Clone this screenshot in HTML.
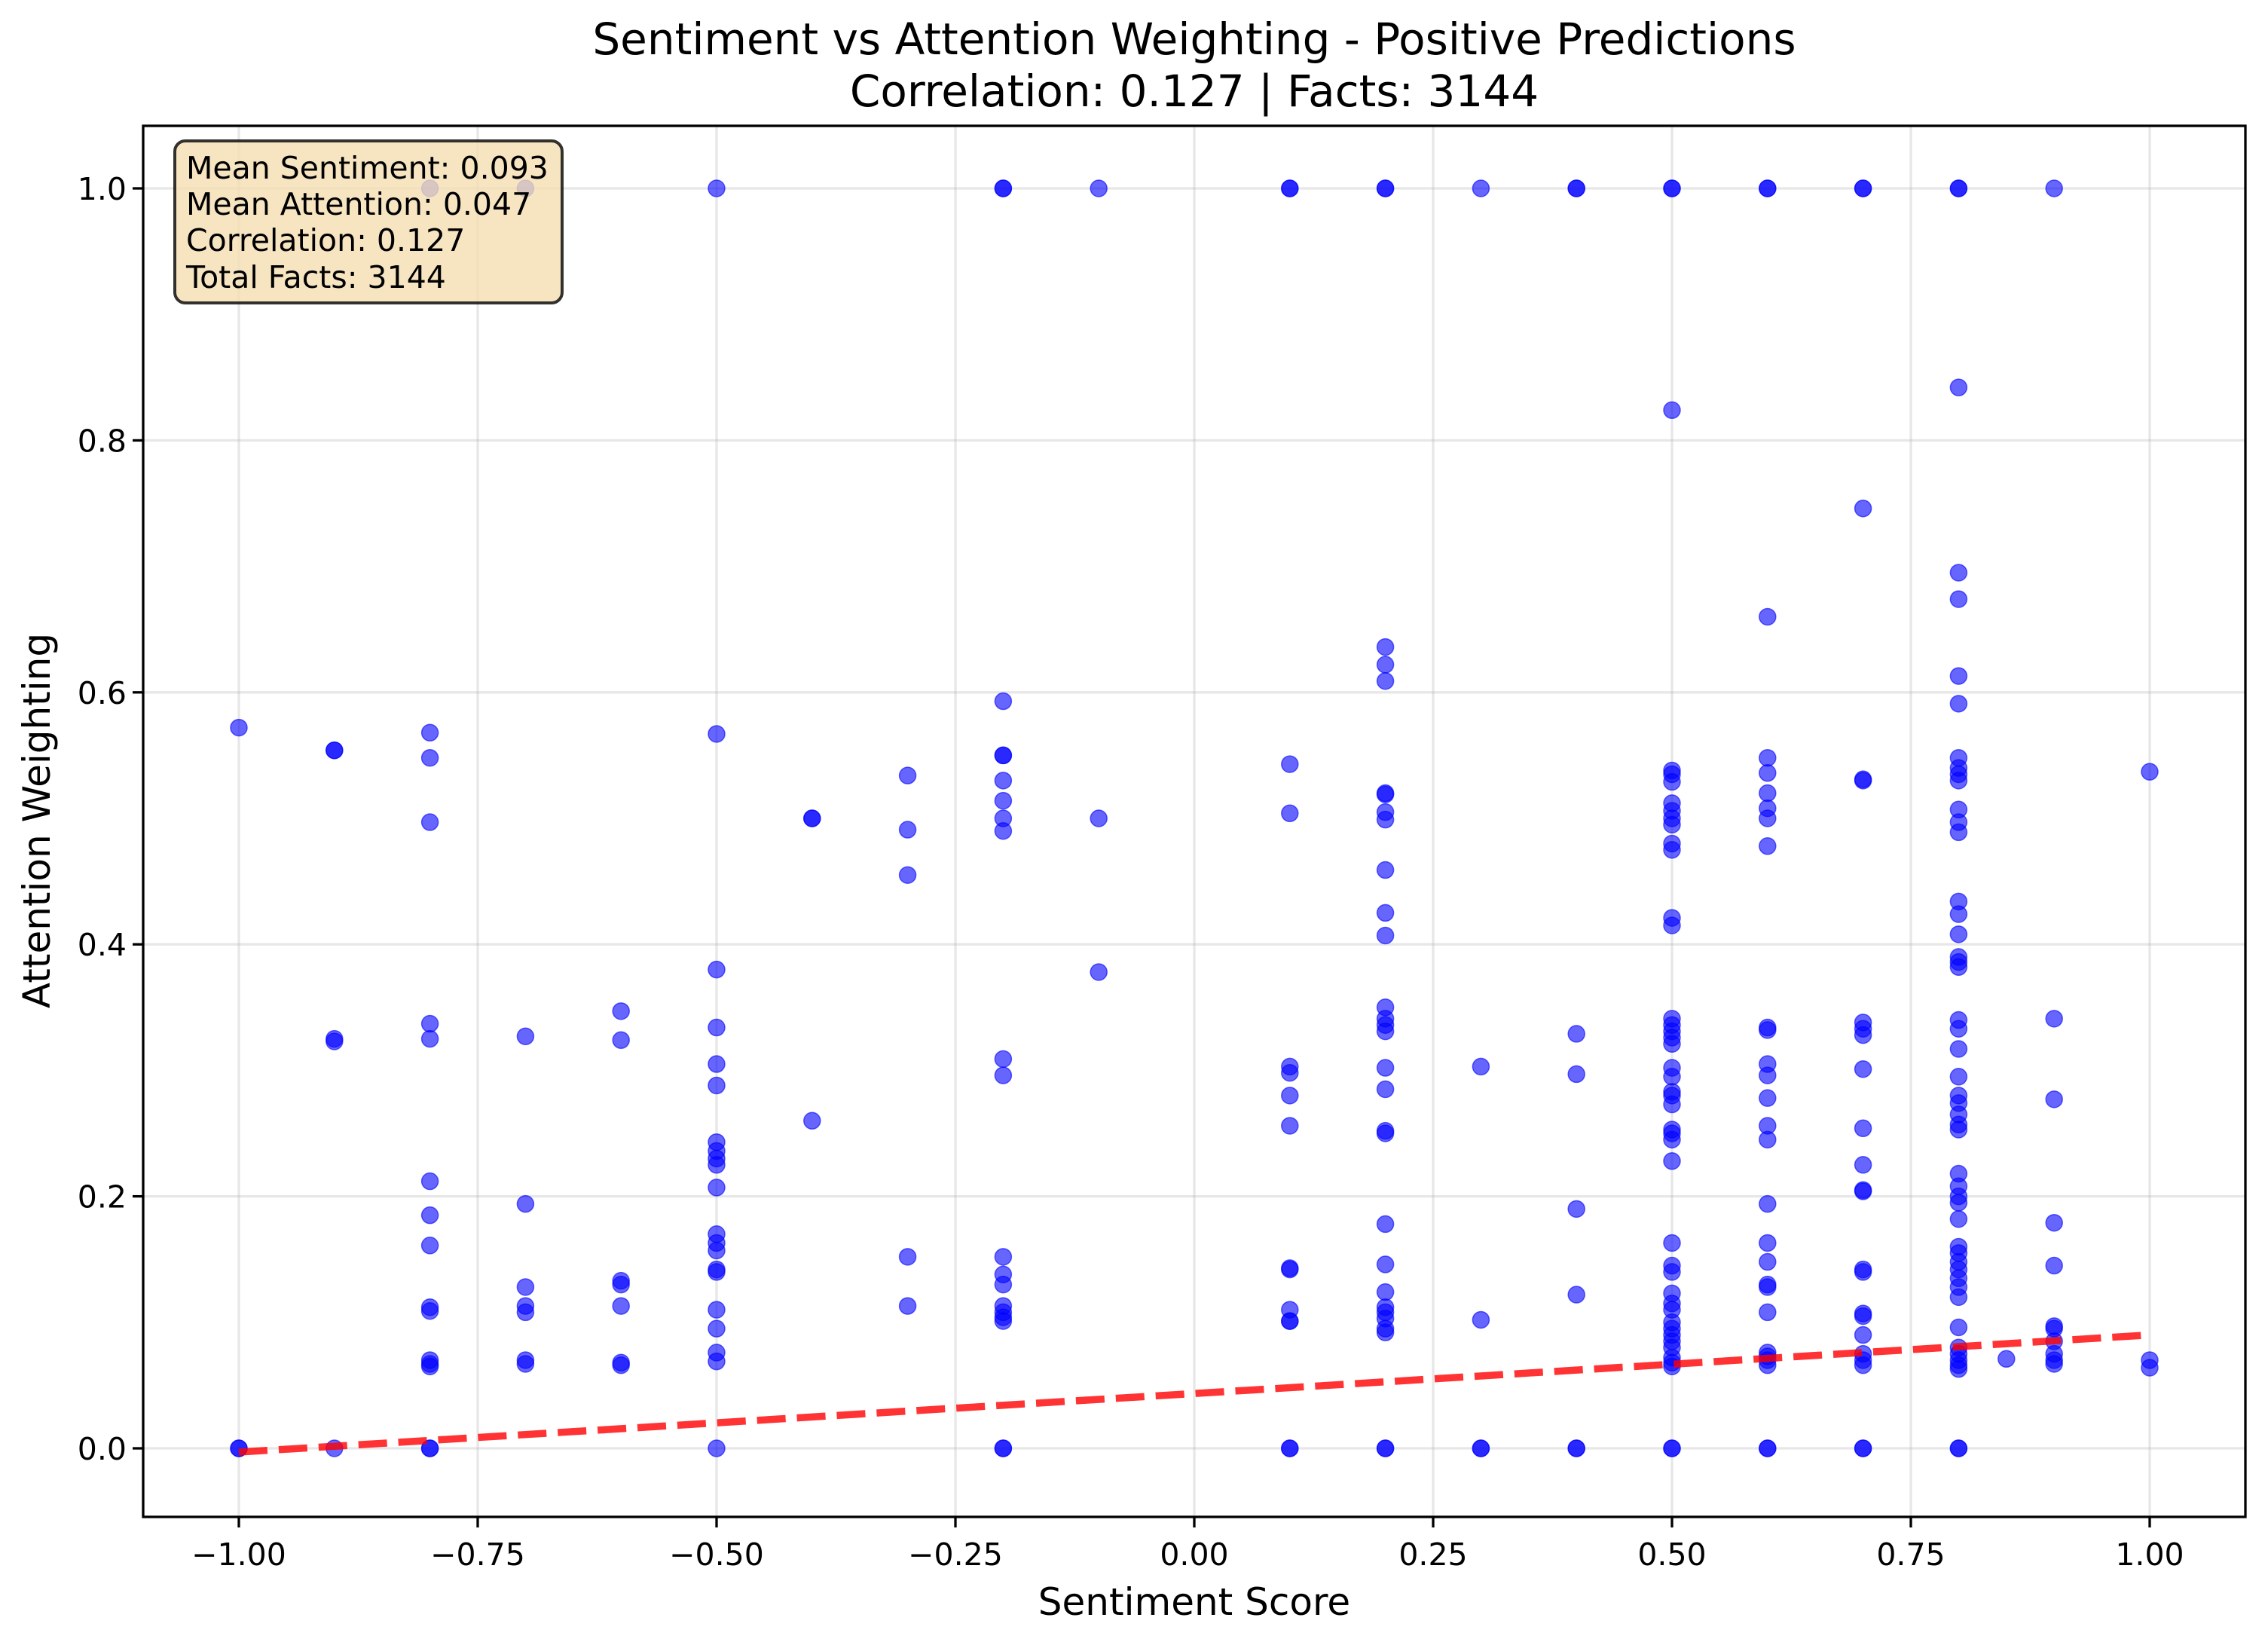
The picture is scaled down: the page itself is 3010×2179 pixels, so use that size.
<!DOCTYPE html>
<html><head><meta charset="utf-8"><style>
html,body{margin:0;padding:0;background:#fff}
svg{display:block;font-family:"DejaVu Sans","Liberation Sans",sans-serif}
</style></head><body>
<svg id="chart" width="3010" height="2179" viewBox="0 0 3010 2179" xmlns="http://www.w3.org/2000/svg">
<rect width="3010" height="2179" fill="#fff"/>
<g id="grid"></g>
<g id="points"></g>
<g id="trend"></g>
<rect x="190" y="167" width="2790" height="1846" fill="none" stroke="#000" stroke-width="3.3"/>
<g id="ticks"></g>
<text x="1585" y="72" font-size="58" text-anchor="middle">Sentiment vs Attention Weighting - Positive Predictions</text>
<text x="1585" y="141" font-size="58" text-anchor="middle">Correlation: 0.127 | Facts: 3144</text>
<text x="1585" y="2143" font-size="50" text-anchor="middle">Sentiment Score</text>
<text x="66" y="1089" font-size="50" text-anchor="middle" transform="rotate(-90 66 1089)">Attention Weighting</text>
<g>
<rect x="232" y="187" width="514" height="215" rx="14" fill="#f5deb3" fill-opacity="0.8" stroke="#000" stroke-opacity="0.8" stroke-width="4"/>
<text x="247" y="237" font-size="41">Mean Sentiment: 0.093</text>
<text x="247" y="285" font-size="41">Mean Attention: 0.047</text>
<text x="247" y="333" font-size="41">Correlation: 0.127</text>
<text x="247" y="382" font-size="41">Total Facts: 3144</text>
</g>
</svg>
<script>
const xTicks=[-1,-0.75,-0.5,-0.25,0,0.25,0.5,0.75,1];
const xTickLabels=["\u22121.00","\u22120.75","\u22120.50","\u22120.25","0.00","0.25","0.50","0.75","1.00"];
const yTicks=[0,0.2,0.4,0.6,0.8,1.0];
const yTickLabels=["0.0","0.2","0.4","0.6","0.8","1.0"];
const sentimentGroups=[-1,-0.9,-0.8,-0.7,-0.6,-0.5,-0.4,-0.3,-0.2,-0.1,0.1,0.2,0.3,0.4,0.5,0.6,0.7,0.8,0.85,0.9,1.0];
const attentionGroups=[
[0.572,0,0],
[0.554,0.554,0.325,0.323,0],
[1.0,0.568,0.548,0.497,0.337,0.325,0.212,0.185,0.161,0.112,0.109,0.07,0.067,0.065,0,0],
[1.0,0.327,0.194,0.128,0.113,0.108,0.07,0.067],
[0.347,0.324,0.133,0.13,0.113,0.068,0.066],
[1.0,0.567,0.38,0.334,0.305,0.288,0.243,0.236,0.23,0.225,0.207,0.17,0.163,0.157,0.142,0.14,0.11,0.095,0.076,0.069,0],
[0.5,0.5,0.26],
[0.534,0.491,0.455,0.152,0.113],
[1.0,1.0,0.593,0.55,0.55,0.53,0.514,0.5,0.49,0.309,0.296,0.152,0.138,0.13,0.113,0.108,0.104,0.101,0,0],
[1.0,0.5,0.378],
[1.0,1.0,0.543,0.504,0.303,0.298,0.28,0.256,0.143,0.142,0.11,0.101,0.101,0,0],
[1.0,1.0,0.636,0.622,0.609,0.52,0.519,0.505,0.499,0.459,0.425,0.407,0.35,0.341,0.336,0.331,0.302,0.285,0.252,0.25,0.178,0.146,0.124,0.112,0.108,0.103,0.095,0.092,0,0],
[1.0,0.303,0.102,0,0],
[1.0,1.0,0.329,0.297,0.19,0.122,0,0],
[1.0,1.0,0.824,0.538,0.535,0.529,0.512,0.506,0.5,0.495,0.48,0.475,0.421,0.415,0.341,0.336,0.331,0.326,0.321,0.302,0.295,0.283,0.28,0.273,0.253,0.25,0.245,0.228,0.163,0.145,0.14,0.123,0.115,0.11,0.1,0.095,0.09,0.085,0.08,0.072,0.068,0.065,0,0],
[1.0,1.0,0.66,0.548,0.536,0.52,0.508,0.5,0.478,0.334,0.332,0.305,0.296,0.278,0.256,0.245,0.194,0.163,0.148,0.13,0.128,0.108,0.076,0.073,0.07,0.066,0,0],
[1.0,1.0,0.746,0.531,0.53,0.338,0.333,0.328,0.301,0.254,0.225,0.205,0.204,0.142,0.14,0.107,0.105,0.09,0.075,0.07,0.066,0,0],
[1.0,1.0,0.842,0.695,0.674,0.613,0.591,0.548,0.54,0.535,0.53,0.507,0.497,0.489,0.434,0.424,0.408,0.39,0.386,0.382,0.34,0.333,0.317,0.295,0.28,0.274,0.265,0.257,0.253,0.218,0.208,0.2,0.195,0.182,0.16,0.155,0.148,0.142,0.135,0.128,0.12,0.096,0.08,0.075,0.07,0.066,0.063,0,0],
[0.071],
[1.0,0.341,0.277,0.179,0.145,0.097,0.095,0.085,0.075,0.07,0.067],
[0.537,0.07,0.064]
];
const trendX=[-1,1];
const trendY=[-0.003,0.09];

const NS="http://www.w3.org/2000/svg";
const L=190,R=2980,T=167,B=2013;
function xs(v){return 1585+v*1268;}
function ys(v){return 1922-v*1672;}
function mk(tag,attrs,parent){const e=document.createElementNS(NS,tag);for(const k in attrs)e.setAttribute(k,attrs[k]);parent.appendChild(e);return e;}
const grid=document.getElementById('grid'),ticks=document.getElementById('ticks'),pts=document.getElementById('points'),trend=document.getElementById('trend');
xTicks.forEach((v,i)=>{
  const g=mk('line',{x1:xs(v),x2:xs(v),y1:T,y2:B,stroke:'#b0b0b0','stroke-opacity':0.3,'stroke-width':3.3},grid);
  
  
  const t=mk('line',{x1:xs(v),x2:xs(v),y1:B,y2:B+14,stroke:'#000','stroke-width':3.3},ticks);
  
  
  const l=mk('text',{x:xs(v),y:2077,'font-size':41,'text-anchor':'middle'},ticks);
  l.textContent=xTickLabels[i];
  
  
});
yTicks.forEach((v,i)=>{
  const g=mk('line',{x1:L,x2:R,y1:ys(v),y2:ys(v),stroke:'#b0b0b0','stroke-opacity':0.3,'stroke-width':3.3},grid);
  
  
  const t=mk('line',{x1:L-14,x2:L,y1:ys(v),y2:ys(v),stroke:'#000','stroke-width':3.3},ticks);
  
  
  const l=mk('text',{x:L-22,y:ys(v)+15,'font-size':41,'text-anchor':'end'},ticks);
  l.textContent=yTickLabels[i];
  
  
});
sentimentGroups.forEach((sx,i)=>{
  attentionGroups[i].forEach(a=>{
    const c=mk('circle',{cx:xs(sx),cy:ys(a),r:11,fill:'#0000ff','fill-opacity':0.6,stroke:'#0000ff','stroke-opacity':0.6,'stroke-width':1.5},pts);
    
    
  });
});
const tl=mk('line',{x1:xs(trendX[0]),y1:ys(trendY[0]),x2:xs(trendX[1]),y2:ys(trendY[1]),stroke:'#ff0000','stroke-opacity':0.8,'stroke-width':9.5,'stroke-dasharray':'38 15'},trend);


</script>
</body></html>
